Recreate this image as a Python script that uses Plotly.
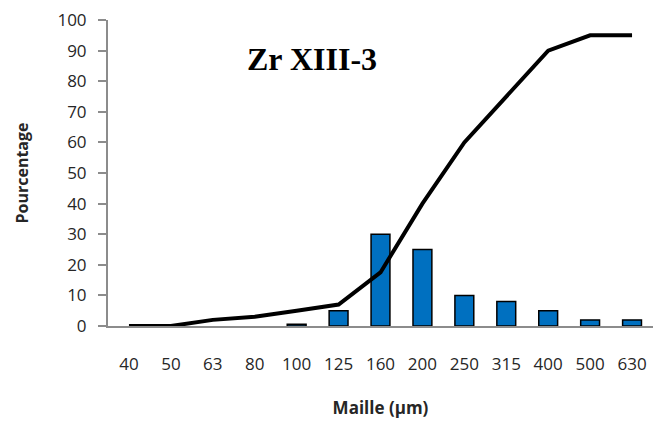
import plotly.graph_objects as go

categories = ["40", "50", "63", "80", "100", "125", "160", "200", "250", "315", "400", "500", "630"]
bar_values = [None, None, None, None, 0.6, 5, 30, 25, 10, 8, 5, 2, 2]
line_values = [0, 0, 2, 3, 5, 7, 17.5, 40, 60, 75, 90, 95, 95]
y_ticks = [0, 10, 20, 30, 40, 50, 60, 70, 80, 90, 100]

fig = go.Figure()
fig.add_trace(go.Bar(
    x=categories, y=bar_values,
    marker=dict(color="#0070C0", line=dict(color="#000000", width=1.5)),
    width=0.45,
))
fig.add_trace(go.Scatter(
    x=categories, y=line_values, mode="lines",
    line=dict(color="#000000", width=4),
))

sans = "Open Sans, Liberation Sans, sans-serif"
tick_font = dict(family=sans, size=17, color="#262626")

fig.update_layout(
    width=645, height=411,
    margin=dict(l=100, r=0, t=8, b=93),
    plot_bgcolor="white", paper_bgcolor="white",
    showlegend=False,
    xaxis=dict(
        type="category", showline=True, linecolor="#8c8c8c", linewidth=2,
        ticks="", showgrid=False, tickfont=tick_font, ticklabelstandoff=22,
        title=dict(text="<b>Maille (µm)</b>", font=dict(family=sans, size=17, color="#262626"), standoff=31),
    ),
    yaxis=dict(
        range=[0, 100.001], tickvals=y_ticks, showline=True, linecolor="#8c8c8c", linewidth=2,
        ticks="outside", ticklen=8, tickcolor="#8c8c8c", tickwidth=1.5,
        showgrid=False, zeroline=False, tickfont=tick_font, ticklabelstandoff=8,
        ticklabeloverflow="allow",
        title=dict(text="<b>Pourcentage</b>", font=dict(family=sans, size=16, color="#262626"), standoff=25),
    ),
    annotations=[dict(
        text="<b>Zr XIII-3</b>", x=0.374, y=0.874, xref="paper", yref="paper",
        showarrow=False, xanchor="center", yanchor="middle",
        font=dict(family="Liberation Serif, Times New Roman, serif", size=32, color="#000000"),
    )],
)

fig.write_html("out.html")
